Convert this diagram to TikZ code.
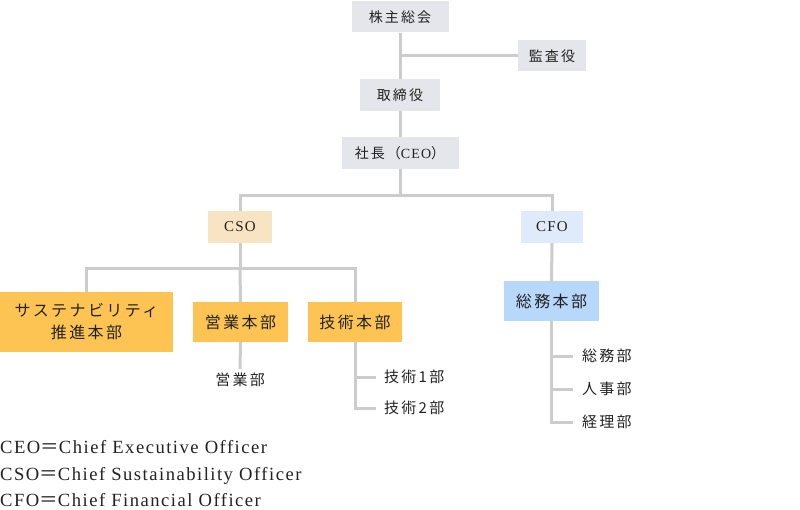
\documentclass[tikz,border=0pt]{standalone}
\usepackage{fontspec}
\setmainfont{Liberation Serif}[LetterSpace=8]
\newfontfamily\jp{Noto Sans CJK JP}[LetterSpace=15]
\usetikzlibrary{positioning}

\definecolor{boxgray}{HTML}{E5E6EB}
\definecolor{csobeige}{HTML}{F8E4C2}
\definecolor{cfoblue}{HTML}{DFEBFA}
\definecolor{honbuorange}{HTML}{FDC453}
\definecolor{honbublue}{HTML}{B7D7FB}
\definecolor{linegray}{HTML}{CCCCCC}
\definecolor{inkblack}{HTML}{222222}

\begin{document}
\begin{tikzpicture}[x=1pt, y=-1pt,
    box/.style={fill=boxgray, inner sep=0pt, align=center, text=inkblack, font=\jp\fontsize{14}{17}\selectfont},
    officer/.style={box, font=\fontsize{15}{18}\selectfont},
    honbu/.style={box, fill=honbuorange, minimum height=40pt, font=\jp\fontsize{16}{22}\selectfont},
    dept/.style={inner xsep=8pt, inner ysep=4pt, text=inkblack, font=\jp\fontsize{15}{18}\selectfont},
    note/.style={anchor=base west, inner sep=0pt, text=inkblack, font=\fontsize{18.6}{22}\selectfont},
    conn/.style={draw=linegray, line width=3pt}
]
\useasboundingbox (0,0) rectangle (800,510);

% Top management
\node[box, minimum width=97pt, minimum height=31pt] (soukai) at (400,17) {株主総会};
\node[box, minimum width=68pt, minimum height=31pt] (kansa) at (552,56) {監査役};
\node[box, minimum width=80pt, minimum height=32pt] (torishimari) at (400,95) {取締役};
\node[box, minimum width=117pt, minimum height=32pt] (shacho) at (400,153) {社長（{\rmfamily CEO}）};

% Officers
\node[officer, fill=csobeige, minimum width=64pt, minimum height=32pt] (cso) at (240,227) {CSO};
\node[officer, fill=cfoblue, minimum width=62pt, minimum height=32pt] (cfo) at (552,227) {CFO};

% Divisions under CSO
\node[honbu, minimum width=173pt, minimum height=60pt] (susta) at (86.5,322) {サステナビリティ\\推進本部};
\node[honbu, minimum width=95pt] (eigyo) at (240.5,322) {営業本部};
\node[honbu, minimum width=94pt] (gijutsu) at (355,322) {技術本部};

% Division under CFO
\node[honbu, fill=honbublue, minimum width=95pt] (soumu) at (551.5,301) {総務本部};

% Departments
\node[dept] (eigyobu) at (240,380) {営業部};
\node[dept, anchor=west] (gijutsu1) at (376,377) {技術1部};
\node[dept, anchor=west] (gijutsu2) at (376,408) {技術2部};
\node[dept, anchor=west, inner xsep=9pt] (soumubu) at (573,356) {総務部};
\node[dept, anchor=west, inner xsep=9pt] (jinjibu) at (573,389) {人事部};
\node[dept, anchor=west, inner xsep=9pt] (keiribu) at (573,422) {経理部};

% Notes
\node[note] (ceonote) at (0,453) {CEO{\jp ＝}Chief Executive Officer};
\node[note] (csonote) at (0,480) {CSO{\jp ＝}Chief Sustainability Officer};
\node[note] (cfonote) at (0,506) {CFO{\jp ＝}Chief Financial Officer};

% Branch points
\coordinate (ceobr) at (400,196);
\coordinate (csobr) at (240,269);

% Connections
\draw[conn] (soukai.south) -- (torishimari.north);
\draw[conn] (soukai.south |- kansa.west) -- (kansa.west);
\draw[conn] (torishimari.south) -- (shacho.north);
\draw[conn] (shacho.south) -- (ceobr) -| (cso.north);
\draw[conn] (ceobr) -| (cfo.north);
\draw[conn] (cso.south) -- (csobr);
\draw[conn] (csobr) -| (susta.north);
\draw[conn] (csobr) -| (gijutsu.north);
\draw[conn] (csobr) -- (eigyo.north);
\draw[conn] (eigyo.south) -- (eigyobu.north);
\draw[conn] (gijutsu.south) |- (gijutsu1.west);
\draw[conn] (gijutsu.south) |- (gijutsu2.west);
\draw[conn] (cfo.south) -- (soumu.north);
\draw[conn] (soumu.south) |- (soumubu.west);
\draw[conn] (soumu.south) |- (jinjibu.west);
\draw[conn] (soumu.south) |- (keiribu.west);

\end{tikzpicture}
\end{document}
